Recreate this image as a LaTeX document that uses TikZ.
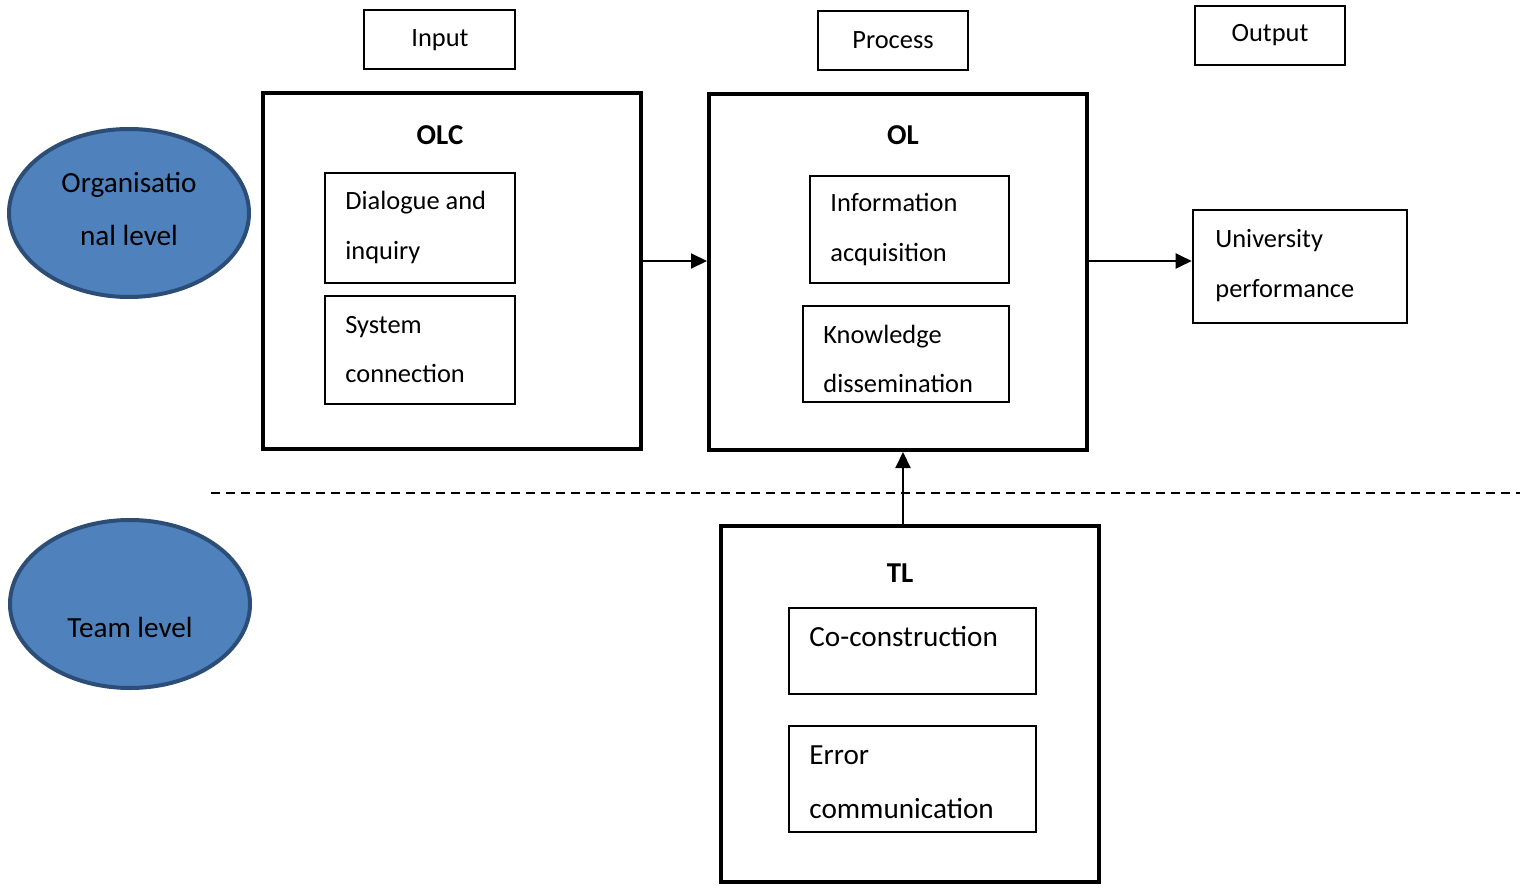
\documentclass[tikz,border=0pt]{standalone}
\usepackage{fontspec}
\setmainfont{Carlito}
\usetikzlibrary{arrows.meta,shapes.geometric,fit}
\definecolor{lvlfill}{HTML}{4F81BD}
\definecolor{lvldraw}{HTML}{2C4D75}
\tikzset{
  hdr/.style={draw, line width=0.65pt, inner sep=0pt, font=\fontsize{13.2}{16}\selectfont},
  frame/.style={draw, line width=2pt, inner sep=0pt},
  inbox/.style={draw, line width=0.65pt, inner sep=0pt},
  perfbox/.style={draw, line width=1.3pt, inner sep=0pt},
  hdrtext/.style={inner sep=0pt, font=\fontsize{13.2}{16}\selectfont},
  lbl/.style={anchor=base west, inner sep=0pt, font=\fontsize{13.2}{16}\selectfont},
  lblbig/.style={anchor=base west, inner sep=0pt, font=\fontsize{14.6}{17}\selectfont},
  ttl/.style={inner sep=0pt, font=\bfseries\fontsize{14.4}{17}\selectfont},
  level/.style={ellipse, draw=lvldraw, fill=lvlfill, line width=2pt, inner sep=0pt,
                minimum width=120pt, minimum height=84pt},
  lvltext/.style={align=center, inner sep=0pt, font=\fontsize{14.6}{26.5}\selectfont},
  link/.style={line width=1pt, -{Triangle[length=8pt,width=7.5pt]}},
  divider/.style={line width=0.7pt, dash pattern=on 4.5pt off 3pt},
}
\begin{document}
\begin{tikzpicture}[x=0.5pt,y=-0.5pt]
\useasboundingbox (0,0) rectangle (1527,888);

% column headers
\node[hdr, fit={(364,10) (515,69)}] (input) {};
\node[hdrtext] (inputT) at (440,40) {Input};
\node[hdr, fit={(818,11) (968,70)}] (process) {};
\node[hdrtext] (processT) at (893,40) {Process};
\node[hdr, fit={(1195,6) (1345,65)}] (output) {};
\node[hdrtext] (outputT) at (1270,35) {Output};

% level ellipses
\node[level] (org) at (129,213) {};
\node[lvltext] (orgT) at (129,209) {Organisatio\\nal level};
\node[level] (team) at (130,604) {};
\node[lvltext] (teamT) at (130,627) {Team level};

% OLC block
\node[frame, fit={(263,93) (641,449)}] (olc) {};
\node[ttl] (olcT) at (440,135) {OLC};
\node[inbox, fit={(325,173) (515,283)}] (dia) {};
\node[lbl] (diaA) at (345,210) {Dialogue and};
\node[lbl] (diaB) at (345,259) {inquiry};
\node[inbox, fit={(325,296) (515,404)}] (sys) {};
\node[lbl] (sysA) at (345,333) {System};
\node[lbl] (sysB) at (345,382) {connection};

% OL block
\node[frame, fit={(709,94) (1087,450)}] (ol) {};
\node[ttl] (olT) at (903,135) {OL};
\node[inbox, fit={(810,176) (1009,283)}] (inf) {};
\node[lbl] (infA) at (830,212) {Information};
\node[lbl] (infB) at (830,261) {acquisition};
\node[inbox, fit={(803,306) (1009,402)}] (kno) {};
\node[lbl] (knoA) at (823,343) {Knowledge};
\node[lbl] (knoB) at (823,392) {dissemination};

% outcome
\node[perfbox, fit={(1193,210) (1407,323)}] (perf) {};
\node[lbl] (perfA) at (1215,248) {University};
\node[lbl] (perfB) at (1215,297) {performance};

% TL block
\node[frame, fit={(721,526) (1099,882)}] (tl) {};
\node[ttl] (tlT) at (900,573) {TL};
\node[inbox, fit={(789,608) (1036,694)}] (coc) {};
\node[lblbig] (cocA) at (809,646) {Co-construction};
\node[inbox, fit={(789,726) (1036,832)}] (err) {};
\node[lblbig] (errA) at (809,764) {Error};
\node[lblbig] (errB) at (809,818) {communication};

% level divider
\coordinate (dl) at (211,493);
\coordinate (dr) at (1520,493);
\draw[divider] (dl) -- (dr);

% connectors
\draw[link] (olc.east |- 0,261) -- (ol.west |- 0,261);
\draw[link] (ol.east |- 0,261) -- (perf.west |- 0,261);
\draw[link] (tl.north -| 903,0) -- (ol.south -| 903,0);
\end{tikzpicture}
\end{document}
